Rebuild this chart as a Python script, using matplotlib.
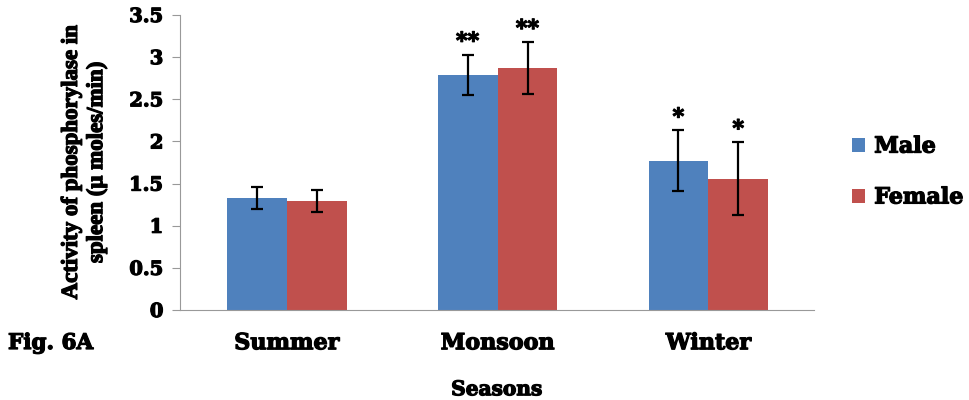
import numpy as np
import matplotlib
matplotlib.use('Agg')
import matplotlib.pyplot as plt
import matplotlib.patheffects as pe

# data
seasons = ['Summer', 'Monsoon', 'Winter']
male = [1.33, 2.79, 1.77]
female = [1.29, 2.87, 1.56]
male_err = [0.13, 0.24, 0.36]
female_err = [0.13, 0.31, 0.43]
male_sig = ['', '**', '*']
female_sig = ['', '**', '*']

plt.rcParams['font.family'] = ['DejaVu Serif']
plt.rcParams['font.weight'] = 'bold'

fig = plt.figure(figsize=(9.69, 4.0), dpi=100)
ax = fig.add_axes([0.1858, 0.225, 0.654, 0.7375])

x = np.arange(len(seasons))
w = 0.284
ekw = dict(ecolor='black', elinewidth=1.6, capthick=1.6)
ax.bar(x - w / 2, male, w, color='#4F81BD', label='Male',
       yerr=male_err, capsize=4, error_kw=ekw)
ax.bar(x + w / 2, female, w, color='#C0504D', label='Female',
       yerr=female_err, capsize=4, error_kw=ekw)

# significance stars over error bars
for i in range(len(seasons)):
    if male_sig[i]:
        ax.text(x[i] - w / 2, male[i] + male_err[i] + 0.02, male_sig[i],
                ha='center', va='bottom', fontsize=16, fontweight='bold')
    if female_sig[i]:
        ax.text(x[i] + w / 2, female[i] + female_err[i] + 0.02, female_sig[i],
                ha='center', va='bottom', fontsize=16, fontweight='bold')

ax.set_xlim(-0.507, 2.5)
ax.set_ylim(0, 3.5)
ax.set_yticks(np.arange(0, 3.6, 0.5))
ax.set_yticklabels(['0', '0.5', '1', '1.5', '2', '2.5', '3', '3.5'], fontsize=14, fontweight='bold')
ax.set_xticks(x)
ax.set_xticklabels(seasons, fontsize=16, fontweight='bold')
ax.tick_params(axis='x', length=0, pad=16)
ax.tick_params(axis='y', length=6, color='#999999', pad=6)

for s in ['top', 'right']:
    ax.spines[s].set_visible(False)
ax.spines['left'].set_color('#999999')
ax.spines['bottom'].set_color('#999999')

ax.set_xlabel('Seasons', fontsize=14.5, fontweight='bold', labelpad=18)
ax.set_ylabel('Activity of phosphorylase in\nspleen (\u03bc moles/min)', fontsize=16.5,
              fontweight='bold', linespacing=1.25, family='Liberation Serif')
ax.yaxis.set_label_coords(-0.115, 0.5)

leg = ax.legend(loc='center left', bbox_to_anchor=(852 / 969, 1 - 172 / 400),
                bbox_transform=fig.transFigure, frameon=False, borderpad=0, borderaxespad=0,
                prop={'size': 16, 'weight': 'bold'}, handlelength=0.6, handleheight=0.6,
                labelspacing=1.3, handletextpad=0.4)

figlab = fig.text(8 / 969, 1 - 343 / 400, 'Fig. 6A', fontsize=15.5, fontweight='bold', va='center')

# the reference text is very heavy, thicken the glyphs a little
heavy = [pe.withStroke(linewidth=0.9, foreground='black')]
texts = (list(ax.texts) + ax.get_xticklabels() + ax.get_yticklabels() +
         [ax.xaxis.label, ax.yaxis.label, figlab] + leg.get_texts())
for t in texts:
    t.set_path_effects(heavy)

plt.savefig('out.png', dpi=100)
